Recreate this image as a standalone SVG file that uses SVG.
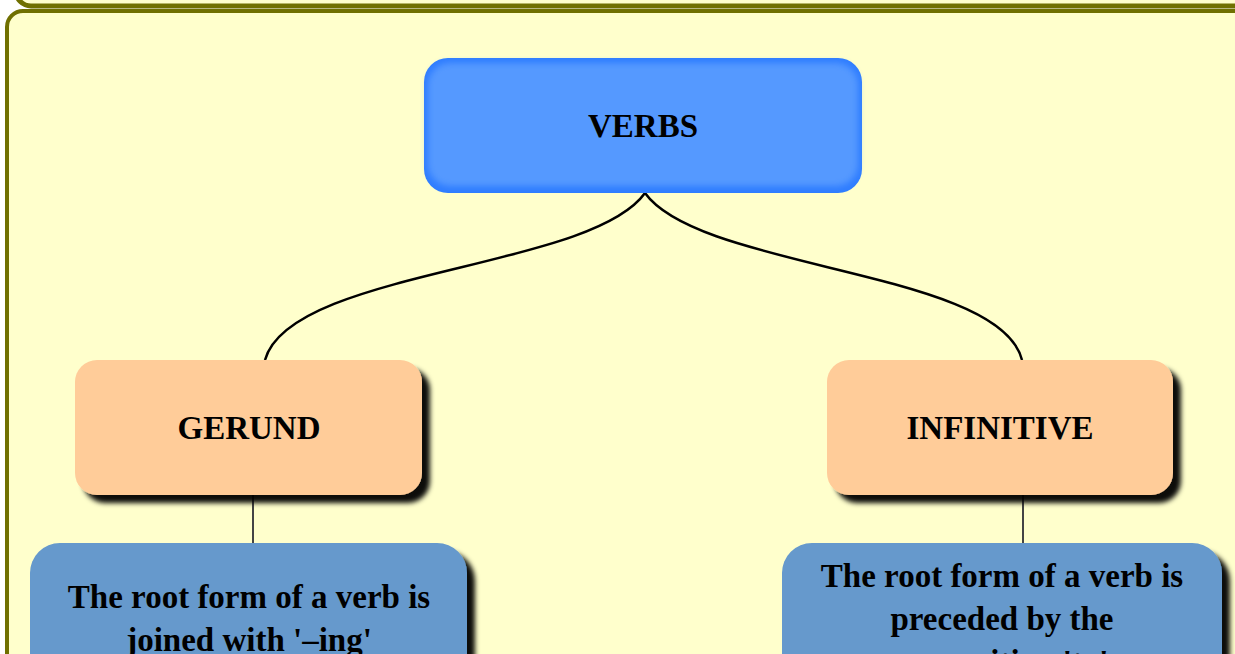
<svg xmlns="http://www.w3.org/2000/svg" width="1235" height="654" viewBox="0 0 1235 654">
<defs>
<filter id="sh" x="-10%" y="-10%" width="130%" height="130%">
<feGaussianBlur in="SourceAlpha" stdDeviation="2.5"/>
<feOffset dx="8" dy="8" result="b"/>
<feFlood flood-color="#000" flood-opacity="0.95"/>
<feComposite in2="b" operator="in" result="s"/>
<feMerge><feMergeNode in="s"/><feMergeNode in="SourceGraphic"/></feMerge>
</filter>
<filter id="soft" x="-5%" y="-5%" width="110%" height="110%">
<feGaussianBlur stdDeviation="3"/>
</filter>
</defs>
<style>
.t{font-family:"Liberation Serif","Times New Roman",serif;font-weight:bold;font-size:33px;fill:#000;text-anchor:middle}
.c{fill:none;stroke:#000;stroke-width:2.5}
.v{fill:none;stroke:#444;stroke-width:2}
.o{fill:#ffcc99}
.b{fill:#6699cc}
</style>
<rect x="0" y="0" width="1235" height="654" fill="#ffffff"/>
<rect x="16" y="-60" width="1260" height="66" rx="15" fill="#ffffcc" stroke="#707000" stroke-width="5"/>
<rect x="7" y="11" width="1260" height="720" rx="16" fill="#ffffcc" stroke="#707000" stroke-width="4"/>
<g id="connectors">
<path class="c" d="M645,193 C590,270 290,270 265,360"/>
<path class="c" d="M645,193 C700,270 1000,270 1022,360"/>
<line class="v" x1="253" y1="495" x2="253" y2="545"/>
<line class="v" x1="1023" y1="495" x2="1023" y2="545"/>
</g>
<g id="verbs">
<rect x="424" y="58" width="438" height="135" rx="24" fill="#2f7dff"/>
<rect x="428" y="63" width="430" height="123" rx="22" fill="#5599ff" filter="url(#soft)"/>
<text class="t" x="643" y="137">VERBS</text>
</g>
<g id="gerund">
<rect class="o" x="75" y="360" width="347" height="135" rx="22" filter="url(#sh)"/>
<text class="t" x="249" y="439">GERUND</text>
</g>
<g id="infinitive">
<rect class="o" x="827" y="360" width="346" height="135" rx="22" filter="url(#sh)"/>
<text class="t" x="1000" y="439">INFINITIVE</text>
</g>
<g id="gerund-def">
<rect class="b" x="30" y="543" width="437" height="160" rx="30" filter="url(#sh)"/>
<text class="t" x="249" y="608">The root form of a verb is</text>
<text class="t" x="249" y="651">joined with '–ing'</text>
</g>
<g id="infinitive-def">
<rect class="b" x="782" y="543" width="440" height="160" rx="30" filter="url(#sh)"/>
<text class="t" x="1002" y="587">The root form of a verb is</text>
<text class="t" x="1002" y="630">preceded by the</text>
<text class="t" x="1002" y="673">preposition 'to'</text>
</g>
</svg>
